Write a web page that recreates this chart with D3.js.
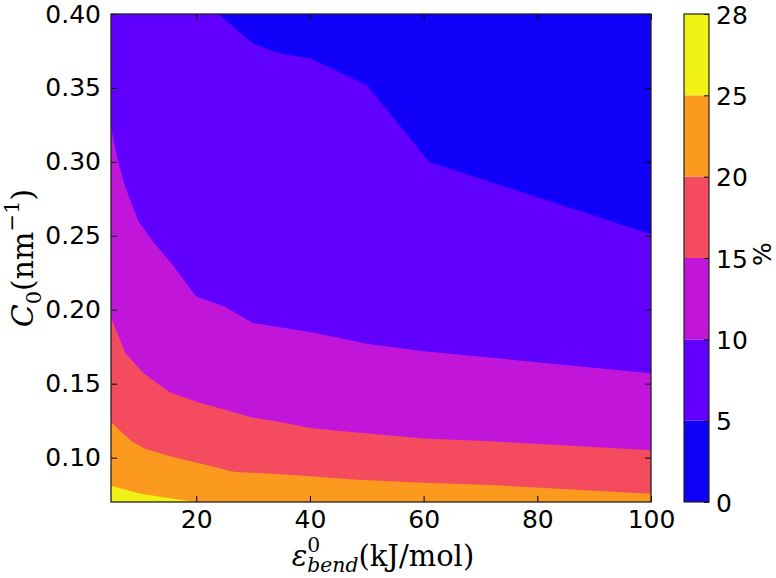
<!DOCTYPE html>
<html>
<head>
<meta charset="utf-8">
<script src="https://cdn.jsdelivr.net/npm/d3@7"></script>
<style>
  body { margin: 0; background: #fff; }
  text { font-family: "DejaVu Sans", sans-serif; }
</style>
</head>
<body>
<svg id="chart" width="776" height="578"></svg>
<script>
const xTicks = [20, 40, 60, 80, 100]
const yTicks = [0.10, 0.15, 0.20, 0.25, 0.30, 0.35, 0.40]
const levels = [0, 5, 10, 15, 20, 25, 28]
const bandColors = ['#1100f9', '#6100fe', '#c116da', '#f44b5e', '#fb9a1f', '#eff213']

// contour lines: C0 where the % value crosses each level
const level5X = [23.9, 30, 35, 40, 50, 61, 100]
const level5C = [0.400, 0.380, 0.373, 0.370, 0.352, 0.300, 0.251]

const level10X = [5, 6, 7.5, 9.8, 12.2, 15.7, 20, 25, 30, 35, 40, 50, 60, 100]
const level10C = [0.324, 0.304, 0.283, 0.260, 0.247, 0.231, 0.209, 0.202, 0.191, 0.188, 0.185, 0.177, 0.172, 0.157]

const level15X = [5, 7.5, 10.7, 15.4, 20.7, 25.4, 30, 35, 40, 48.3, 60, 71.8, 100]
const level15C = [0.195, 0.171, 0.157, 0.144, 0.137, 0.132, 0.127, 0.124, 0.120, 0.117, 0.113, 0.111, 0.105]

const level20X = [5, 8.6, 11, 15.4, 20.7, 26.6, 38.3, 48.3, 60, 71.8, 100]
const level20C = [0.124, 0.111, 0.106, 0.101, 0.096, 0.0905, 0.088, 0.085, 0.083, 0.0815, 0.0755]

const level25X = [5, 10, 15.4, 20]
const level25C = [0.081, 0.0757, 0.0725, 0.070]

const svg = d3.select('#chart')

const margin = { top: 14, right: 125, bottom: 76, left: 111 }
const width = 776 - margin.left - margin.right
const height = 578 - margin.top - margin.bottom

const x = d3.scaleLinear().domain([5, 100]).range([0, width])
const y = d3.scaleLinear().domain([0.07, 0.40]).range([height, 0])

const plot = svg.append('g').attr('transform', `translate(${margin.left},${margin.top})`)

plot.append('clipPath').attr('id', 'clip')
  .append('rect').attr('width', width).attr('height', height)

const bands = plot.append('g').attr('clip-path', 'url(#clip)')

// 5-10 band fills whatever is not covered below
bands.append('rect')
  .attr('width', width)
  .attr('height', height)
  .attr('fill', bandColors[1])

const zip = (xs, cs) => xs.map((v, i) => [v, cs[i]])

// 0-5 band sits above the 5% line
bands.append('path')
  .datum(zip(level5X, level5C))
  .attr('fill', bandColors[0])
  .attr('d', d3.area().x(d => x(d[0])).y0(y(0.40)).y1(d => y(d[1])))

const below = d3.area().x(d => x(d[0])).y0(y(0.07)).y1(d => y(d[1]))
const lines = [
  [level10X, level10C, bandColors[2]],
  [level15X, level15C, bandColors[3]],
  [level20X, level20C, bandColors[4]],
  [level25X, level25C, bandColors[5]],
]
lines.forEach(([xs, cs, col]) => {
  bands.append('path')
    .datum(zip(xs, cs))
    .attr('fill', col)
    .attr('d', below)
})

// axes, ticks pointing inward on all four sides
const styleAxis = (g) => {
  g.select('.domain').remove()
  g.selectAll('.tick line').attr('stroke', '#000')
  g.selectAll('.tick text').attr('fill', '#000').attr('font-size', 25)
}

plot.append('g')
  .attr('transform', `translate(0,${height})`)
  .call(d3.axisBottom(x).tickValues(xTicks).tickSize(-6).tickPadding(8))
  .call(styleAxis)

plot.append('g')
  .call(d3.axisTop(x).tickValues(xTicks).tickSize(-6).tickFormat(''))
  .call(styleAxis)

plot.append('g')
  .call(d3.axisLeft(y).tickValues(yTicks).tickSize(-6).tickPadding(10).tickFormat(d3.format('.2f')))
  .call(styleAxis)

plot.append('g')
  .attr('transform', `translate(${width},0)`)
  .call(d3.axisRight(y).tickValues(yTicks).tickSize(-6).tickFormat(''))
  .call(styleAxis)

plot.append('rect')
  .attr('width', width)
  .attr('height', height)
  .attr('fill', 'none')
  .attr('stroke', '#222')
  .attr('stroke-width', 1.3)

// colorbar, one equal slot per band
const cbX = 684
const cbW = 25
const cb = svg.append('g').attr('transform', `translate(${cbX},${margin.top})`)
const cbScale = d3.scalePoint().domain(levels).range([height, 0])

cb.selectAll('rect.band')
  .data(bandColors)
  .enter()
  .append('rect')
  .attr('class', 'band')
  .attr('x', 0)
  .attr('width', cbW)
  .attr('y', (d, i) => cbScale(levels[i + 1]))
  .attr('height', (d, i) => cbScale(levels[i]) - cbScale(levels[i + 1]))
  .attr('fill', d => d)

cb.append('g')
  .attr('transform', `translate(${cbW},0)`)
  .call(d3.axisRight(cbScale).tickSize(-5).tickPadding(7))
  .call(styleAxis)
  .selectAll('.tick text').attr('dy', '0.36em')

cb.append('rect')
  .attr('width', cbW)
  .attr('height', height)
  .attr('fill', 'none')
  .attr('stroke', '#222')
  .attr('stroke-width', 1.2)

svg.append('text')
  .attr('transform', `translate(771,${margin.top + height / 2 - 4}) rotate(-90)`)
  .attr('text-anchor', 'middle')
  .attr('font-size', 25)
  .text('%')

// math-style labels built from pieces
function mathText(g, parts, size) {
  let pos = 0
  let lastPos = 0
  parts.forEach(p => {
    const t = g.append('text')
      .attr('x', p.stack ? lastPos : pos)
      .attr('y', (p.shift || 0) * size)
      .style('font-family', '"DejaVu Serif", serif')
      .style('font-style', p.it ? 'italic' : 'normal')
      .style('font-size', (size * (p.scale || 1)) + 'px')
      .text(p.t)
    const w = t.node().getComputedTextLength()
    if (p.stack) {
      pos = Math.max(pos, lastPos + w)
    } else {
      lastPos = pos
      pos += w
    }
  })
  g.selectAll('text').attr('transform', `translate(${-pos / 2},0)`)
}

const xLabel = svg.append('g').attr('transform', `translate(${margin.left + width / 2 + 2},566)`)
mathText(xLabel, [
  { t: 'ε', it: true },
  { t: '0', scale: 0.7, shift: -0.5 },
  { t: 'bend', it: true, scale: 0.7, shift: 0.2, stack: true },
  { t: '(kJ/mol)' },
], 29)

const yLabel = svg.append('g').attr('transform', `translate(33,${margin.top + height / 2}) rotate(-90)`)
mathText(yLabel, [
  { t: 'C', it: true },
  { t: '0', scale: 0.7, shift: 0.25 },
  { t: '(nm' },
  { t: '−1', scale: 0.7, shift: -0.48 },
  { t: ')' },
], 30)
</script>
</body>
</html>
